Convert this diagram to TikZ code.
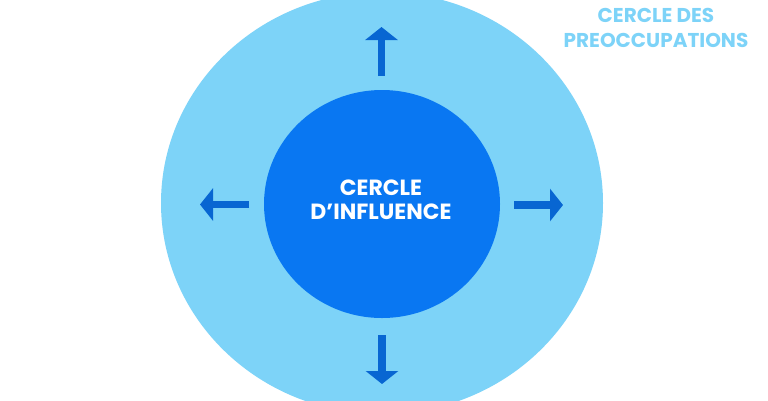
\documentclass[tikz,border=0pt]{standalone}
\usepackage{fontspec}
\setmainfont{Poppins}
\usetikzlibrary{arrows.meta}
\definecolor{outerblue}{RGB}{125,211,248}
\definecolor{innerblue}{RGB}{9,119,242}
\definecolor{arrowblue}{RGB}{8,102,210}
\tikzset{
  outercircle/.style={fill=outerblue, draw=none},
  innercircle/.style={fill=innerblue, draw=none},
  growarrow/.style={draw=arrowblue, line width=7.5pt, -{Triangle[length=13pt,width=32pt]}},
  centertext/.style={text=white, font=\bfseries\fontsize{22}{24.5}\selectfont, align=center},
  titletext/.style={text=outerblue, font=\bfseries\fontsize{20}{25}\selectfont, align=center}
}
\begin{document}
\begin{tikzpicture}[x=1pt,y=-1pt]
\useasboundingbox (0,0) rectangle (768,400);
\fill[white] (0,0) rectangle (768,400);
\begin{scope}
\clip (0,0) rectangle (768,400);
\path[outercircle] (382,203) ellipse [x radius=221, y radius=211];
\end{scope}
\path[innercircle] (382,204) ellipse [x radius=118, y radius=114];
\node[centertext] (inner) at (381,200) {CERCLE\\D’INFLUENCE};
\node[titletext] (title) at (656,27.5) {CERCLE DES\\PREOCCUPATIONS};
\coordinate (upS) at (381.5,76);
\coordinate (upT) at (381.5,27);
\coordinate (dnS) at (382,335);
\coordinate (dnT) at (382,384);
\coordinate (lfS) at (249,204.5);
\coordinate (lfT) at (200,204.5);
\coordinate (rtS) at (514,205);
\coordinate (rtT) at (563,205);
\draw[growarrow] (upS) -- (upT);
\draw[growarrow] (dnS) -- (dnT);
\draw[growarrow] (lfS) -- (lfT);
\draw[growarrow] (rtS) -- (rtT);
\end{tikzpicture}
\end{document}
